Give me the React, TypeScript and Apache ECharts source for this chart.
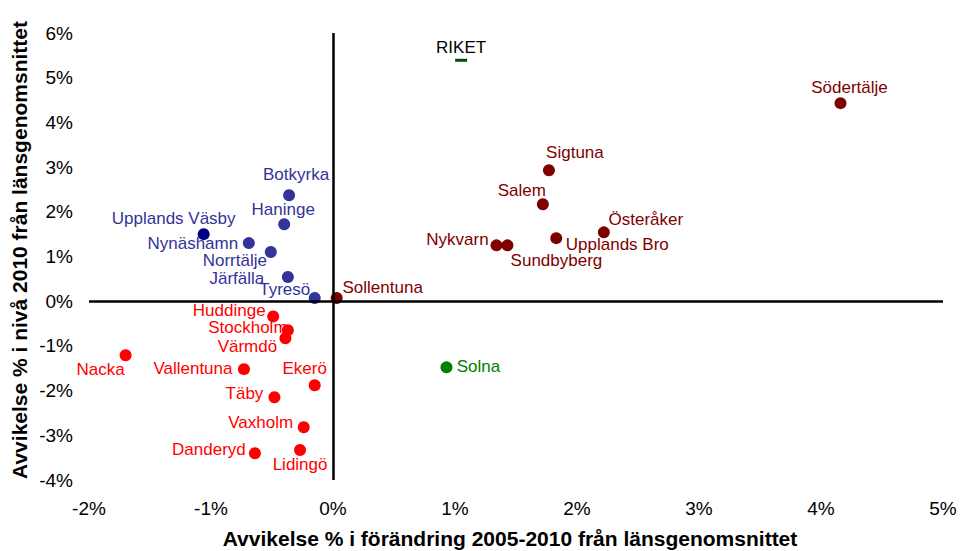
import React, { useEffect, useRef } from "react";
import * as echarts from "echarts";

// Tick labels
const xTicks = [-2, -1, 0, 1, 2, 3, 4, 5];
const yTicks = [-4, -3, -2, -1, 0, 1, 2, 3, 4, 5, 6];

// Blue group
const blueNames = ["Botkyrka", "Haninge", "Nynäshamn", "Norrtälje", "Järfälla", "Tyresö"];
const blueX = [-0.36, -0.4, -0.69, -0.51, -0.37, -0.15];
const blueY = [2.37, 1.72, 1.3, 1.1, 0.54, 0.07];

// Navy (single)
const navyNames = ["Upplands Väsby"];
const navyX = [-1.06];
const navyY = [1.5];

// Dark red group
const darkRedNames = ["Sollentuna", "Södertälje", "Sigtuna", "Salem", "Österåker", "Upplands Bro", "Nykvarn", "Sundbyberg"];
const darkRedX = [0.03, 4.16, 1.77, 1.72, 2.22, 1.83, 1.34, 1.43];
const darkRedY = [0.07, 4.43, 2.93, 2.17, 1.54, 1.41, 1.25, 1.25];

// Red group
const redNames = ["Huddinge", "Stockholm", "Värmdö", "Nacka", "Vallentuna", "Ekerö", "Täby", "Vaxholm", "Danderyd", "Lidingö"];
const redX = [-0.49, -0.37, -0.39, -1.7, -0.73, -0.15, -0.48, -0.24, -0.64, -0.27];
const redY = [-0.34, -0.65, -0.83, -1.21, -1.52, -1.88, -2.15, -2.82, -3.4, -3.33];

// Green (single)
const greenNames = ["Solna"];
const greenX = [0.93];
const greenY = [-1.48];

// Riket
const riketNames = ["RIKET"];
const riketX = [1.05];
const riketY = [5.39];

// Label placement (pixel offsets of label centre from point)
const labelOffsets: Record<string, [number, number]> = {
  Botkyrka: [7, -21],
  Haninge: [-1, -15],
  "Upplands Väsby": [-30, -16],
  Nynäshamn: [-56, 0],
  Norrtälje: [-36, 8],
  Järfälla: [-51, 1],
  Tyresö: [-30, -9],
  Sollentuna: [46, -11],
  Södertälje: [9, -16],
  Sigtuna: [26, -18],
  Salem: [-21, -14],
  Österåker: [42, -13],
  "Upplands Bro": [61, 6],
  Nykvarn: [-39, -6],
  Sundbyberg: [49, 15],
  Huddinge: [-44, -6],
  Stockholm: [-40, -3],
  Värmdö: [-38, 8],
  Nacka: [-25, 14],
  Vallentuna: [-51, -1],
  Ekerö: [-10, -17],
  Täby: [-30, -4],
  Vaxholm: [-43, -5],
  Danderyd: [-46, -4],
  Lidingö: [0, 14],
  Solna: [32, -1],
  RIKET: [0, -13],
};

const FONT = "'Liberation Sans', Arial, sans-serif";

function build(names: string[], xs: number[], ys: number[], textColor: string) {
  return names.map((n, i) => ({
    name: n,
    value: [xs[i], ys[i]],
    label: {
      show: true,
      position: "inside",
      offset: labelOffsets[n] || [0, 0],
      formatter: n,
      color: textColor,
      fontSize: 17,
      fontFamily: FONT,
    },
  }));
}

function scatter(name: string, data: any[], color: string, extra: any = {}) {
  return {
    type: "scatter",
    name,
    data,
    symbol: "circle",
    symbolSize: 12,
    itemStyle: { color, opacity: 1 },
    z: 3,
    ...extra,
  };
}

export default function App() {
  const ref = useRef<HTMLDivElement>(null);
  useEffect(() => {
    if (!ref.current) return;
    const chart = echarts.init(ref.current, undefined, { renderer: "svg" });
    chart.setOption({
      animation: false,
      backgroundColor: "#ffffff",
      grid: { left: 89, right: 17, top: 33, bottom: 71 },
      xAxis: {
        type: "value",
        min: xTicks[0],
        max: xTicks[xTicks.length - 1],
        interval: 1,
        axisLine: { show: false, onZero: false },
        axisTick: { show: false },
        splitLine: { show: false },
        axisLabel: {
          formatter: "{value}%",
          color: "#000",
          fontSize: 19,
          fontFamily: FONT,
          margin: 19,
        },
      },
      yAxis: {
        type: "value",
        min: yTicks[0],
        max: yTicks[yTicks.length - 1],
        interval: 1,
        axisLine: { show: false, onZero: false },
        axisTick: { show: false },
        splitLine: { show: false },
        axisLabel: {
          formatter: "{value}%",
          color: "#000",
          fontSize: 19,
          fontFamily: FONT,
          margin: 16,
        },
      },
      graphic: [
        {
          type: "text",
          x: 510,
          y: 538,
          style: {
            text: "Avvikelse % i förändring 2005-2010 från länsgenomsnittet",
            fontSize: 21,
            fontWeight: "bold",
            fontFamily: FONT,
            fill: "#000",
            align: "center",
            verticalAlign: "middle",
          },
        },
        {
          type: "text",
          x: 19,
          y: 250,
          rotation: Math.PI / 2,
          style: {
            text: "Avvikelse % i nivå 2010 från länsgenomsnittet",
            fontSize: 21,
            fontWeight: "bold",
            fontFamily: FONT,
            fill: "#000",
            align: "center",
            verticalAlign: "middle",
          },
        },
      ],
      series: [
        {
          type: "scatter",
          data: [],
          silent: true,
          markLine: {
            silent: true,
            symbol: "none",
            label: { show: false },
            lineStyle: { color: "#000", width: 2.5, type: "solid" },
            data: [{ xAxis: 0 }, { yAxis: 0 }],
          },
        },
        scatter("blue", build(blueNames, blueX, blueY, "#333399"), "#333399"),
        scatter("navy", build(navyNames, navyX, navyY, "#333399"), "#000080"),
        scatter("darkred", build(darkRedNames, darkRedX, darkRedY, "#800000"), "#800000"),
        scatter("red", build(redNames, redX, redY, "#ff0000"), "#ff0000"),
        scatter("green", build(greenNames, greenX, greenY, "#008000"), "#008000"),
        scatter("riket", build(riketNames, riketX, riketY, "#000000"), "#004d00", {
          symbol: "rect",
          symbolSize: [12, 3],
        }),
      ],
    });
    return () => chart.dispose();
  }, []);
  return (
    <div
      ref={ref}
      style={{ position: "fixed", left: 0, top: 0, width: 960, height: 551 }}
    />
  );
}
